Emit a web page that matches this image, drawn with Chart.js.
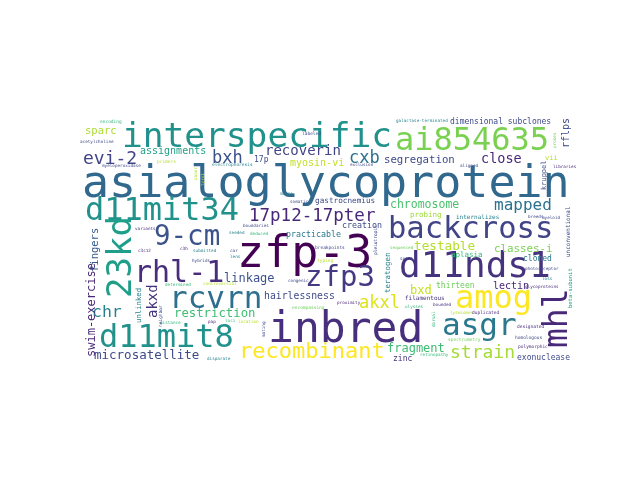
<!DOCTYPE html>
<html>
<head>
<meta charset="utf-8">
<script src="https://cdn.jsdelivr.net/npm/chart.js@4.4.1/dist/chart.umd.min.js"></script>
<style>
  html, body { margin: 0; padding: 0; background: #ffffff; }
  canvas { display: block; }
</style>
</head>
<body>
<canvas id="cloud" width="640" height="480"></canvas>
<script>
// Palavras e pesos (tamanho relativo da palavra na nuvem)
const words = [
    'asialoglycoprotein', 'interspecific', 'ai854635', 'zfp-3', 'inbred',
    'backcross', 'd11nds1', 'd11mit34', 'd11mit8', 'rhl-1',
    '9-cm', 'rcvrn', 'zfp3', 'amog', 'asgr',
    'recombinant', '17p12-17pter', 'strain', 'evi-2', 'bxh',
    'cxb', 'close', 'mapped', 'akxl', 'chr',
    'recoverin', 'restriction', 'microsatellite', 'linkage', 'hairlessness',
    'testable', 'classes-i', 'chromosome', 'fragment', 'segregation',
    'assignments', 'myosin-vi', 'sparc', 'bxd', 'gastrocnemius',
    'practicable', 'creation', 'dimensional subclones', 'aplasia', 'cloned',
    'thirteen', 'lectin', 'exonuclease', 'zinc', 'filamentous',
    'probing', 'internalizes', '17p', 'vii', 'galactose-terminated',
    'encoding', 'acetylcholine', 'labeled', 'myeloperoxidase', 'primers',
    'electrophoresis', 'exclusion', 'mouse', 'somatic', 'boundaries',
    'deduced', 'seeded', 'breakpoints', 'typing', 'congenic',
    'variants', 'c3c12', 'c3h', 'submitted', 'car',
    'lens', 'hybrids', 'determined', 'controversial', 'distance',
    'pap', 'loci', 'location', 'encompassing', 'disparate',
    'proximity', 'ulysses', 'bounded', 'lysosomes', 'duplicated',
    'designated', 'homologous', 'spectrometry', 'polymorphic', 'retinopathy',
    'sequenced', 'spots', 'photoreceptor', 'loss', 'glycoproteins',
    'libraries', 'aligned', 'myeloid', 'breeds',
    '23kd', 'fingers', 'swim-exercise', 'akxd', 'unlinked',
    'neighbor', 'mating', 'teratogen', 'pleiotropic', 'paper',
    'kruppel', 'rflps', 'mhl', 'unconventional', 'beta-subunit',
    'dorsal', 'tyrp1', 'probes'
];

const weights = [
    45, 34.5, 32, 45, 43,
    30.5, 36, 32, 32, 30,
    27.5, 31, 29, 32, 31,
    22, 17.5, 18, 18, 17,
    17, 13.5, 16, 17, 16.5,
    14, 12.3, 12.5, 12, 9.8,
    12.7, 10.8, 11.5, 12, 10.7,
    10, 10, 10.5, 12, 7.7,
    8.3, 8.3, 8, 7.5, 8,
    8, 10, 8, 8, 6,
    7.5, 6, 8, 7, 4.3,
    4.5, 4.3, 4.5, 4.3, 4.5,
    4.5, 4.3, 4.3, 4.3, 4.3,
    4.3, 4.3, 4.5, 4.5, 4.3,
    4.3, 4.3, 4.3, 4.3, 4.3,
    4.3, 4.3, 4.3, 4.3, 4.3,
    4.3, 4.3, 4.3, 4.5, 4.3,
    4.3, 4.3, 4.3, 4.3, 4.5,
    4.5, 4.5, 4.5, 4.5, 4.3,
    4.3, 4.3, 4.3, 4.3, 4.3,
    4.3, 4.3, 4.3, 4.3,
    34, 10.5, 12, 14, 7.3,
    4.5, 4.3, 7.5, 4.5, 4.3,
    7, 10, 33, 6, 5.5,
    4.3, 4.3, 4.3
];

// Posição de cada palavra na grade da nuvem (496 x 248), início da linha de base
const layoutX = [
    2, 42, 315, 157, 188,
    308, 319, 5, 19, 54,
    74, 89, 225, 375, 362,
    159, 169, 370, 3, 132,
    269, 401, 414, 279, 12,
    185, 94, 14, 144, 184,
    334, 414, 310, 307, 304,
    60, 210, 5, 330, 235,
    206, 262, 370, 371, 443,
    356, 413, 437, 313, 325,
    330, 376, 174, 465, 316,
    20, 0, 222, 22, 77,
    132, 270, 200, 210, 163,
    170, 149, 235, 237, 208,
    55, 58, 100, 113, 150,
    150, 112, 85, 123, 80,
    128, 145, 158, 212, 127,
    257, 325, 353, 370, 392,
    437, 435, 368, 438, 340,
    310, 320, 445, 462, 445,
    473, 380, 462, 448,
    51, 18, 15, 77, 61,
    82, 185, 310, 297, 117,
    466, 489, 487, 490, 492,
    355, 124, 476
];

const layoutY = [
    79, 29, 32, 149, 224,
    120, 159, 102, 229, 164,
    127, 190, 168, 190, 217,
    240, 103, 240, 46, 45,
    45, 45, 92, 190, 199,
    37, 199, 241, 164, 181,
    132, 134, 90, 234, 45,
    36, 48, 16, 176, 85,
    119, 110, 6, 139, 143,
    170, 171, 242, 243, 182,
    99, 101, 44, 42, 4,
    5, 25, 17, 49, 45,
    48, 48, 77, 85, 109,
    117, 116, 131, 144, 164,
    112, 134, 132, 134, 134,
    140, 144, 168, 167, 206,
    205, 204, 205, 191, 242,
    186, 190, 188, 196, 196,
    210, 221, 223, 230, 238,
    131, 142, 152, 162, 170,
    50, 49, 101, 100,
    180, 154, 239, 200, 205,
    209, 219, 175, 137, 62,
    72, 30, 230, 139, 190,
    209, 68, 30
];

// Palavras na vertical (lidas de baixo para cima)
const verticalFrom = 104;

const colours = [
    '#31688e', '#21918c', '#7ad151', '#440154', '#472f7d',
    '#414487', '#46337e', '#21918c', '#21918c', '#472d7b',
    '#3b528b', '#2d6f8e', '#443983', '#fde725', '#2a788e',
    '#fde725', '#482878', '#a5db36', '#414487', '#3b528b',
    '#2c728e', '#482878', '#2c728e', '#dde318', '#26828e',
    '#414487', '#40bd72', '#3e4a89', '#3b528b', '#3e4a89',
    '#b5de2b', '#7ad151', '#4ac16d', '#3fbc73', '#3e4a89',
    '#1fa187', '#c2df23', '#addc30', '#c8e020', '#3e4a89',
    '#2a788e', '#3e4a89', '#3e4a89', '#35b779', '#2a788e',
    '#6ece58', '#482878', '#3e4a89', '#46337e', '#46337e',
    '#a0da39', '#26828e', '#3e4a89', '#b5de2b', '#26828e',
    '#35b779', '#3e4a89', '#3e4a89', '#3e4a89', '#b5de2b',
    '#26828e', '#3e4a89', '#26828e', '#3e4a89', '#3e4a89',
    '#35b779', '#26828e', '#3e4a89', '#b5de2b', '#3e4a89',
    '#482878', '#482878', '#482878', '#26828e', '#3e4a89',
    '#26828e', '#3e4a89', '#35b779', '#b5de2b', '#35b779',
    '#482878', '#35b779', '#b5de2b', '#6ece58', '#26828e',
    '#482878', '#35b779', '#46337e', '#b5de2b', '#482878',
    '#482878', '#3e4a89', '#6ece58', '#482878', '#35b779',
    '#6ece58', '#3e4a89', '#3e4a89', '#26828e', '#482878',
    '#482878', '#3e4a89', '#3e4a89', '#3e4a89',
    '#1f9e89', '#365c8d', '#482878', '#46337e', '#26828e',
    '#3e4a89', '#3e4a89', '#26828e', '#3e4a89', '#b5de2b',
    '#3e4a89', '#3e4a89', '#482878', '#3e4a89', '#1f9e89',
    '#35b779', '#b5de2b', '#6ece58'
];

// Plugin que escreve cada palavra no ponto do gráfico
const wordPlugin = {
    id: 'wordText',
    afterDatasetsDraw(chart) {
        const ctx = chart.ctx;
        const xs = chart.scales.x;
        const ys = chart.scales.y;
        const k = chart.chartArea.width / 496;
        chart.data.datasets[0].data.forEach((p, i) => {
            const px = xs.getPixelForValue(p.x);
            const py = ys.getPixelForValue(p.y);
            ctx.save();
            ctx.fillStyle = colours[i];
            ctx.font = (weights[i] * k) + 'px "DejaVu Sans Mono"';
            ctx.textBaseline = 'alphabetic';
            ctx.textAlign = 'left';
            ctx.translate(px, py);
            if (i >= verticalFrom) ctx.rotate(-Math.PI / 2);
            ctx.fillText(p.word, 0, 0);
            ctx.restore();
        });
    }
};

const cloudChart = new Chart(document.getElementById('cloud').getContext('2d'), {
    type: 'scatter',
    data: {
        datasets: [{
            data: words.map((w, i) => ({ x: layoutX[i], y: layoutY[i], word: w })),
            pointRadius: 0,
            pointHoverRadius: 0
        }]
    },
    options: {
        responsive: false,
        animation: false,
        layout: { padding: { left: 80, right: 64, top: 118, bottom: 114 } },
        plugins: { legend: { display: false }, tooltip: { enabled: false } },
        scales: {
            x: { type: 'linear', min: 0, max: 496, display: false },
            y: { type: 'linear', min: 0, max: 248, reverse: true, display: false }
        }
    },
    plugins: [wordPlugin]
});
</script>
</body>
</html>
